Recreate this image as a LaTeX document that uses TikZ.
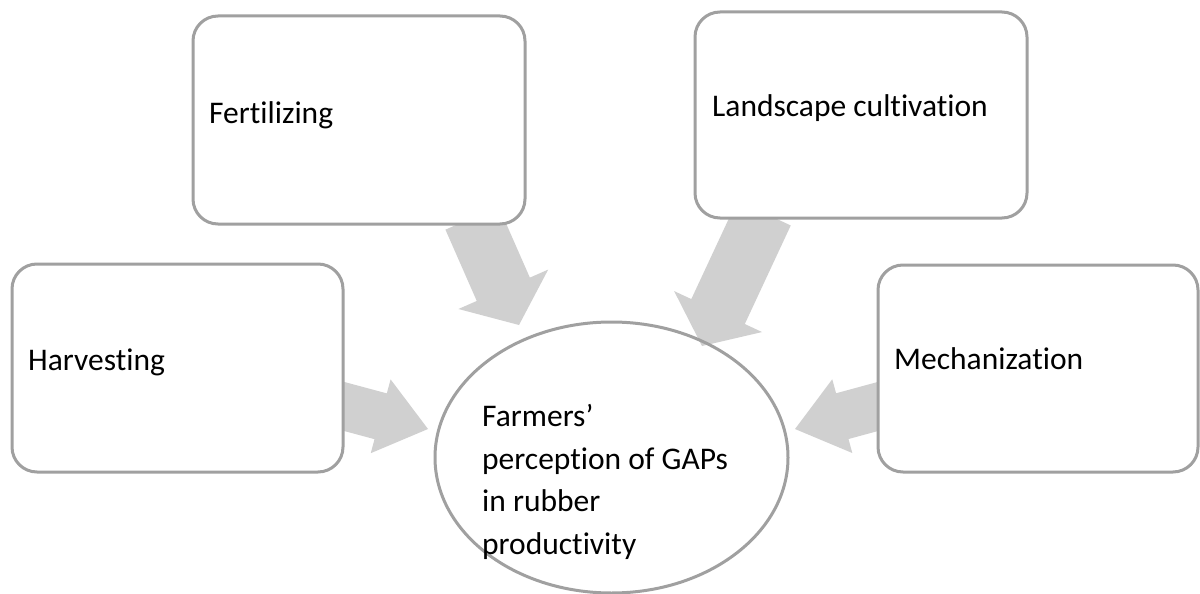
\documentclass[tikz,border=0pt]{standalone}
\usepackage{fontspec}
\setmainfont[Ligatures=NoCommon]{Carlito}
\usetikzlibrary{calc,shapes.geometric}
\definecolor{boxline}{RGB}{160,160,160}
\definecolor{arrowfill}{RGB}{208,208,208}
\newcommand{\blockarr}[5]{%
  \path ($(#2)!#5!(#1)$) coordinate (tmpC);
  \fill[arrowfill] ($(#1)!#3!90:(#2)$) -- ($(tmpC)!#3!90:(#2)$) -- ($(tmpC)!#4!90:(#2)$) -- (#2)
    -- ($(tmpC)!#4!-90:(#2)$) -- ($(tmpC)!#3!-90:(#2)$) -- ($(#1)!#3!-90:(#2)$) -- cycle;}
\tikzset{
  box/.style={draw=boxline, line width=3pt, fill=white, rounded corners=25pt, rectangle, inner sep=0pt},
  oval/.style={draw=boxline, line width=3pt, ellipse, inner sep=0pt},
  lbl/.style={anchor=base west, inner sep=0pt, font=\fontsize{31.5}{42.5}\selectfont, align=left},
}
\begin{document}
\begin{tikzpicture}[x=1pt,y=-1pt]
\useasboundingbox[fill=white] (0,0) rectangle (1200,594);
% arrow end coordinates
\coordinate (aF) at (472,218);
\coordinate (bF) at (519,325);
\coordinate (aL) at (764,213);
\coordinate (bL) at (702,346);
\coordinate (aH) at (335,404);
\coordinate (bH) at (428,429);
\coordinate (aM) at (887,404);
\coordinate (bM) at (795,429);
% block arrows
\blockarr{aF}{bF}{29pt}{49pt}{39pt}
\blockarr{aL}{bL}{29.5pt}{48.5pt}{38pt}
\blockarr{aH}{bH}{23.7pt}{38.2pt}{49pt}
\blockarr{aM}{bM}{23.7pt}{38.2pt}{49pt}
% boxes
\node[box, minimum width=332pt, minimum height=208pt] (F) at (359,120) {};
\node[box, minimum width=331pt, minimum height=208pt] (H) at (177.5,368) {};
\node[box, minimum width=332pt, minimum height=206pt] (L) at (861,115) {};
\node[box, minimum width=320pt, minimum height=207pt] (M) at (1038,368.5) {};
\node[oval, minimum width=353pt, minimum height=271pt] (E) at (611.5,457.5) {};
% labels
\node[lbl] (tF) at (209,123) {Fertilizing};
\node[lbl] (tH) at (28,370) {Harvesting};
\node[lbl] (tL) at (712,117) {Landscape cultivation};
\node[lbl] (tM) at (894,369) {Mechanization};
\node[lbl] (tE) at (482,554) {Farmers’\\perception of GAPs\\in rubber\\productivity};
\end{tikzpicture}
\end{document}
